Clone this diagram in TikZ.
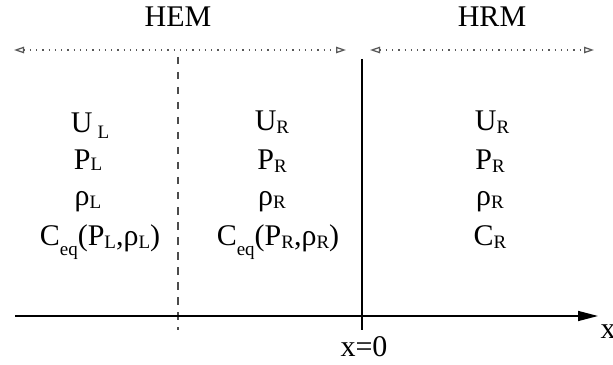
\documentclass[tikz,border=0pt]{standalone}
\usepackage{fontspec}
\setmainfont{Liberation Serif}
\usetikzlibrary{arrows.meta}
\newcommand{\lsub}[2][1pt]{\raisebox{-#1}{\fontsize{7.6}{9}\selectfont #2}}

\begin{document}
\begin{tikzpicture}[x=0.4pt, y=-0.4pt, font=\fontsize{12}{14}\selectfont,
  zone/.style={dotted, gray!70!black, line width=0.5pt, {Triangle[open, length=4pt, width=2.6pt]}-{Triangle[open, length=4pt, width=2.6pt]}},
  var/.style={inner sep=0pt, anchor=base}]
  \useasboundingbox (0,0) rectangle (613,365);
  % zones
  \coordinate (hemL) at (14,50);
  \coordinate (hemR) at (346,50);
  \coordinate (hrmL) at (370,50);
  \coordinate (hrmR) at (594,50);
  \draw[zone] (hemL) -- (hemR);
  \draw[zone] (hrmL) -- (hrmR);
  \node[var] (hem) at (178,27) {HEM};
  \node[var] (hrm) at (492,27) {HRM};
  % interfaces
  \coordinate (cutT) at (178,57);
  \coordinate (cutB) at (178,330);
  \draw[dashed, gray!60!black, line width=0.5pt] (cutT) -- (cutB);
  \coordinate (wallT) at (362,59);
  \coordinate (wallB) at (362,330);
  \draw[line width=0.6pt] (wallT) -- (wallB);
  % axis
  \coordinate (axL) at (15,316);
  \coordinate (axR) at (598,316);
  \draw[line width=0.6pt, -{Triangle[length=8pt, width=4pt]}] (axL) -- (axR);
  \node[var] (xlab) at (608,339) {x};
  \node[var] (orig) at (364,357) {x=0};
  % left state
  \node[var] (uL) at (90,133) {U\,\lsub[2.4pt]{L}};
  \node[var] (pL) at (88,170) {P\lsub[0.4pt]{L}};
  \node[var] (rL) at (88,206) {ρ\lsub{L}};
  \node[var] (cL) at (100,246) {C\lsub[4pt]{eq}(P\lsub{L},ρ\lsub{L})};
  % right state, HEM side
  \node[var] (uR) at (272,131) {U\lsub{R}};
  \node[var] (pR) at (272,170) {P\lsub{R}};
  \node[var] (rR) at (272,206) {ρ\lsub{R}};
  \node[var] (cR) at (278,246) {C\lsub[4pt]{eq}(P\lsub{R},ρ\lsub{R})};
  % right state, HRM side
  \node[var] (uH) at (492,131) {U\lsub{R}};
  \node[var] (pH) at (490,170) {P\lsub{R}};
  \node[var] (rH) at (490,206) {ρ\lsub{R}};
  \node[var] (cH) at (490,246) {C\lsub{R}};
\end{tikzpicture}
\end{document}
